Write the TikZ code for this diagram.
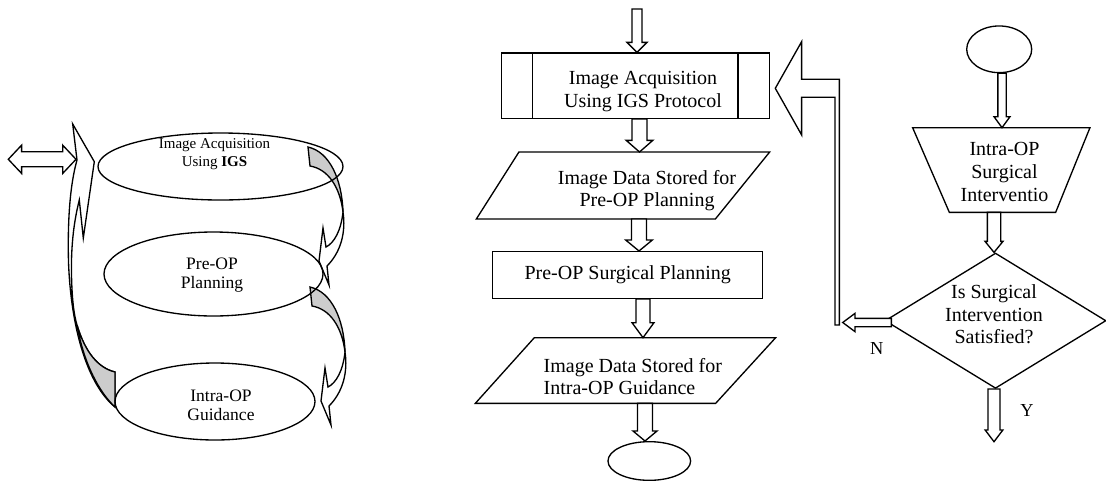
\documentclass[tikz,border=0pt]{standalone}
\usepackage{fontspec}
\setmainfont{Liberation Serif}
\usetikzlibrary{shapes.geometric,calc}

\tikzset{
bend back/.pic={
\draw[twist] (0,0) .. controls (22,5) and (34,33) .. (35,65) .. controls (32,40) and (20,22) .. (2,19) -- cycle;
\draw[blk] (35,65) .. controls (38,85) and (33,105) .. (19,119) -- (21,138) -- (11,114) -- (15,81) -- (18,100) .. controls (26,96) and (33,84) .. (35,65) -- cycle;
}
}

\begin{document}
\begin{tikzpicture}
[x=0.6pt, y=-0.6pt, line width=0.8pt, line join=miter,
every node/.style={inner sep=0pt, align=center, font=\fontsize{12}{13.6}\selectfont},
oval/.style={draw, ellipse},
ovaltxt/.style={font=\fontsize{10.5}{11.4}\selectfont},
box/.style={draw, rectangle},
frame/.style={rectangle},
blk/.style={draw, fill=white},
twist/.style={draw, fill=gray!40},
down arr/.style n args={3}{to path={let \p1=(\tikztostart), \p2=(\tikztotarget) in
 (\x1-#1,\y1) -- (\x1-#1,\y2+#3) -- (\x1-#2,\y2+#3) -- (\x1,\y2) -- (\x1+#2,\y2+#3) -- (\x1+#1,\y2+#3) -- (\x1+#1,\y1) -- cycle}},
left arr/.style n args={3}{to path={let \p1=(\tikztostart), \p2=(\tikztotarget) in
 (\x1,\y1+#1) -- (\x2+#3,\y1+#1) -- (\x2+#3,\y1+#2) -- (\x2,\y1) -- (\x2+#3,\y1-#2) -- (\x2+#3,\y1-#1) -- (\x1,\y1-#1) -- cycle}},
both arr/.style n args={3}{to path={let \p1=(\tikztostart), \p2=(\tikztotarget) in
 (\x1,\y1) -- (\x1+#3,\y1+#2) -- (\x1+#3,\y1+#1) -- (\x2-#3,\y1+#1) -- (\x2-#3,\y1+#2) -- (\x2,\y1) -- (\x2-#3,\y1-#2) -- (\x2-#3,\y1-#1) -- (\x1+#3,\y1-#1) -- (\x1+#3,\y1-#2) -- cycle}}]
\useasboundingbox (0,0) rectangle (1106,480);

% left: cycle of ovals
\draw[blk] (115,407) .. controls (88,385) and (71,330) .. (68.5,262) .. controls (67.5,220) and (70,185) .. (77,160) -- (72.7,124) -- (94.3,161.7) -- (83.3,238) -- (79.3,200) .. controls (73,225) and (71,250) .. (71.5,275) .. controls (72,300) and (74,315) .. (77,325) .. controls (85,352) and (98,368) .. (115,372) -- cycle;
\draw[twist] (77,325) .. controls (85,352) and (98,368) .. (115,372) -- (115,407) .. controls (100,393) and (84,365) .. (77,325) -- cycle;
\pic at (308,147) {bend back};
\pic at (310,287) {bend back};

\node[oval, minimum width=147pt, minimum height=40.2pt] (acqOval) at (220.5,166.5) {};
\node[font=\fontsize{9}{10.6}\selectfont] (acqOvalTxt) at (214.5,154.4) {Image Acquisition\\Using \textbf{IGS}};
\node[oval, minimum width=131.4pt, minimum height=50.4pt] (planOval) at (213.5,274) {};
\node[ovaltxt] (planOvalTxt) at (212,275.5) {Pre-OP\\Planning};
\node[oval, minimum width=120pt, minimum height=46.2pt] (guideOval) at (215,401.5) {};
\node[ovaltxt] (guideOvalTxt) at (221,405.5) {Intra-OP\\Guidance};

\coordinate (ioL) at (8.3,159.3);
\coordinate (ioR) at (76,159.3);
\draw[blk] (ioL) to[both arr={4.5pt}{8.5pt}{8pt}] (ioR);

% middle: pre-op chain
\coordinate (feed) at (637,9);
\node[box, minimum width=160.6pt, minimum height=39.2pt] (acq) at (635.5,85.7) {};
\draw ([shift={(31.6,0)}]acq.north west) -- ([shift={(31.6,0)}]acq.south west)
([shift={(-32,0)}]acq.north east) -- ([shift={(-32,0)}]acq.south east);
\node (acqTxt) at (643,91.5) {Image Acquisition\\Using IGS Protocol};

\node[frame, minimum width=175.2pt, minimum height=39.4pt] (pre) at (623,185.5) {};
\draw ([shift={(42.6,0)}]pre.north west) -- (pre.north east) -- ([shift={(-54.3,0)}]pre.south east) -- (pre.south west) -- cycle;
\node (preTxt) at (647,190.5) {Image Data Stored for\\Pre-OP Planning};

\node[box, minimum width=162pt, minimum height=28pt] (plan) at (627.7,275) {Pre-OP Surgical Planning};

\node[frame, minimum width=179.4pt, minimum height=38.6pt] (gui) at (625.5,370.5) {};
\draw ([shift={(59,0)}]gui.north west) -- (gui.north east) -- ([shift={(-60,0)}]gui.south east) -- (gui.south west) -- cycle;
\node[align=left, anchor=west] (guiTxt) at (543,376.5) {Image Data Stored for\\Intra-OP Guidance};

\node[oval, minimum width=49.6pt, minimum height=23.2pt] (stop) at (649.3,461) {};

\draw[blk] (feed) to[down arr={3pt}{6pt}{6pt}] (acq.north);
\draw[blk] ([shift={(4,0)}]acq.south) to[down arr={4.5pt}{8pt}{7pt}] (pre.north);
\draw[blk] ([shift={(16,0)}]pre.south) to[down arr={4.5pt}{8pt}{6.6pt}] (plan.north);
\draw[blk] ([shift={(15.3,0)}]plan.south) to[down arr={4.2pt}{6.6pt}{9pt}] (gui.north);
\draw[blk] ([shift={(19.5,0)}]gui.south) to[down arr={4.5pt}{7.2pt}{6pt}] (stop.north);

% right: intra-op check
\node[oval, minimum width=39pt, minimum height=28pt] (start) at (999.2,49.3) {};
\node[frame, minimum width=105.6pt, minimum height=50pt] (surg) at (1001.3,170) {};
\draw (surg.north west) -- (surg.north east) -- ([shift={(-34.3,0)}]surg.south east) -- ([shift={(36.7,0)}]surg.south west) -- cycle;
\node (surgTxt) at (1004.5,172) {Intra-OP\\Surgical\\Interventio};
\node[draw, diamond, minimum width=132.6pt, minimum height=81.2pt] (sat) at (995.5,320.7) {};
\node (satTxt) at (994,314.3) {Is Surgical\\Intervention\\Satisfied?};

\coordinate (nTip) at (842.7,322.5);
\coordinate (yEnd) at (994,441.7);
\coordinate (fbFoot) at (837.2,325);
\coordinate (fbTip) at (775.3,88.3);

\draw[blk] ([shift={(2.8,0)}]start.south) to[down arr={2.5pt}{4.8pt}{6.6pt}] (surg.north);
\draw[blk] ([shift={(-7.3,0)}]surg.south) to[down arr={4pt}{5.4pt}{6.6pt}] (sat.north);
\draw[blk] ([shift={(7,1.8)}]sat.west) to[left arr={2.5pt}{5.5pt}{7.4pt}] (nTip);
\draw[blk] ([shift={(-1.5,0)}]sat.south) to[down arr={3.6pt}{5.3pt}{7pt}] (yEnd);
\draw[blk] let \p1=(fbFoot), \p2=(fbTip) in (\p2) -- (\x2+15.8pt,\y2+28pt) -- (\x2+15.8pt,\y2+5.4pt) -- (\x1+1.3pt,\y2+5.4pt) -- (\x1+1.3pt,\y1) -- (\x1-1.3pt,\y1) -- (\x1-1.3pt,\y2-5.4pt) -- (\x2+15.8pt,\y2-5.4pt) -- (\x2+15.8pt,\y2-28pt) -- cycle;

\node[font=\fontsize{11}{12}\selectfont] (nLbl) at (876.7,348.3) {N};
\node[font=\fontsize{11}{12}\selectfont] (yLbl) at (1027,410) {Y};
\end{tikzpicture}
\end{document}
